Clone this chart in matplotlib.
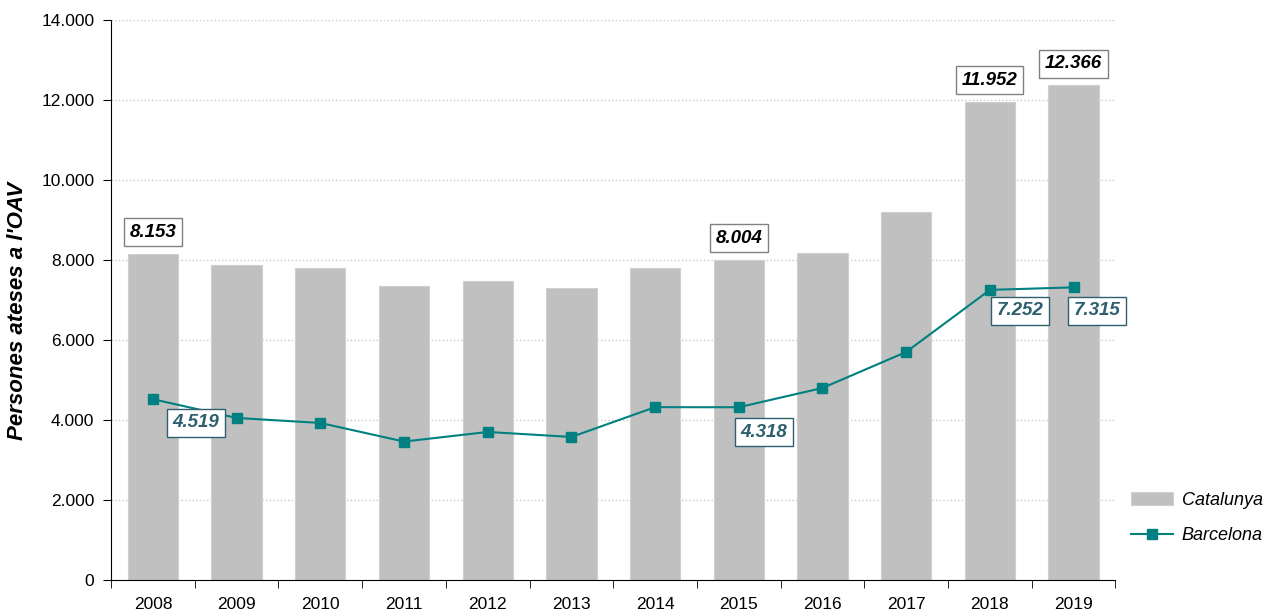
import numpy as np
import matplotlib.pyplot as plt

plt.rcParams['font.family'] = ['Liberation Sans', 'DejaVu Sans']

# dades
anys = ['2008', '2009', '2010', '2011', '2012', '2013', '2014', '2015', '2016', '2017', '2018', '2019']
catalunya = [8153, 7870, 7800, 7350, 7475, 7300, 7800, 8004, 8175, 9200, 11952, 12366]
barcelona = [4519, 4050, 3925, 3460, 3700, 3575, 4320, 4318, 4800, 5700, 7252, 7315]
etiq_cat = [0, 7, 10, 11]
etiq_bcn = [0, 7, 10, 11]

fig = plt.figure(figsize=(12.69, 6.15), dpi=100)
ax = fig.add_axes([0.0875, 0.057, 0.7915, 0.9105])

x = np.arange(len(anys))
barres = ax.bar(x, catalunya, width=0.6, color='#c0c0c0', edgecolor='#d0d0d0', linewidth=0.8,
                label='Catalunya', zorder=2)
linia, = ax.plot(x, barcelona, color='#008080', linewidth=1.5, marker='s', markersize=7,
                 label='Barcelona', zorder=3)

# etiquetes
for i in etiq_cat:
    ax.annotate(f'{catalunya[i]:,}'.replace(',', '.'), (x[i], catalunya[i]),
                xytext=(0, 15.5), textcoords='offset points', ha='center', va='center',
                fontsize=13.5, fontweight='bold', fontstyle='italic', color='black',
                bbox=dict(boxstyle='square,pad=0.3', fc='white', ec='#808080', lw=1), zorder=5)

offs_bcn = {0: (31, -17), 7: (18, -18), 10: (22, -15), 11: (17, -17)}
for i in etiq_bcn:
    ax.annotate(f'{barcelona[i]:,}'.replace(',', '.'), (x[i], barcelona[i]),
                xytext=offs_bcn[i], textcoords='offset points', ha='center', va='center',
                fontsize=13.5, fontweight='bold', fontstyle='italic', color='#2e5f6e',
                bbox=dict(boxstyle='square,pad=0.3', fc='white', ec='#2e5f6e', lw=1), zorder=5)

ax.set_xlim(-0.5, len(anys) - 0.5)
ax.set_ylim(0, 14000)
ax.set_yticks(np.arange(0, 14001, 2000))
ax.set_yticklabels([f'{v:,}'.replace(',', '.') for v in range(0, 14001, 2000)], fontsize=12.5)
ax.set_xticks(x)
ax.set_xticklabels(anys, fontsize=12.5)
ax.set_xticks(np.arange(-0.5, len(anys), 1), minor=True)
ax.tick_params(axis='x', which='major', length=0, pad=12)
ax.tick_params(axis='x', which='minor', length=6, direction='out')
ax.tick_params(axis='y', length=6, direction='out', pad=6)

ax.yaxis.grid(True, linestyle=':', color='#c8c8c8', linewidth=1, zorder=0)
ax.set_axisbelow(True)
for s in ['top', 'right']:
    ax.spines[s].set_visible(False)

ax.set_ylabel("Persones ateses a l'OAV", fontsize=16, fontweight='bold', fontstyle='italic')
ax.yaxis.set_label_coords(-0.0828, 0.48)

fig.legend([barres, linia], ['Catalunya', 'Barcelona'], loc='center left',
           bbox_to_anchor=(1122 / 1269, 1 - 518 / 615), frameon=False,
           prop={'size': 13, 'style': 'italic'}, handlelength=2.3, borderpad=0,
           labelspacing=1.0, handletextpad=0.5)

fig.savefig('out.png', dpi=100)
